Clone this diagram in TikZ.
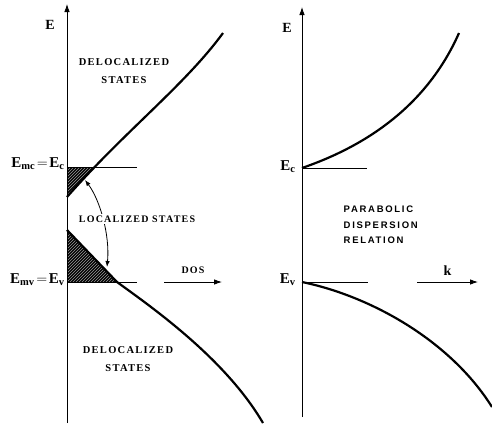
\documentclass[tikz,border=0pt]{standalone}
\usepackage{fontspec}
\setmainfont{Liberation Serif}
\newfontfamily\spacedserif{Liberation Serif}[LetterSpace=12]
\newfontfamily\spacedsans{Liberation Sans}[LetterSpace=18]
\usetikzlibrary{arrows.meta,patterns}

\begin{document}
\begin{tikzpicture}[x=1pt, y=-1pt, line width=0.8pt,
    >={Latex[length=8pt,width=5.5pt]},
    band/.style={line width=2.2pt},
    tail/.style={fill=black, postaction={pattern=north east lines, pattern color=gray!80}},
    state/.style={font=\spacedserif\bfseries\fontsize{10.5}{18}\selectfont, align=center, inner sep=1.5pt},
    level/.style={font=\bfseries\fontsize{15}{16}\selectfont, anchor=base east, inner sep=1pt},
    axislabel/.style={font=\bfseries\fontsize{14}{15}\selectfont}]
  \useasboundingbox (0,0) rectangle (492,424);

  % density of states
  \fill[tail] (67,167) -- (95,167) -- (67,197) -- cycle;
  \fill[tail] (67,230) -- (117,282) -- (67,282) -- cycle;
  \draw[->] (67,423) -- (67,4);
  \draw (67,167) -- (137,167);
  \draw (67,282) -- (137,282);
  \draw[band] (67,197) .. controls (125,131) and (185,85) .. (223,33);
  \draw[band] (67,230) -- (117,282) .. controls (150,306) and (225,358) .. (263,423);
  \node[axislabel] (eleft) at (50,25) {E};
  \node[level] (emc) at (66,167) {$\mathbf{E_{mc}\!=\!E_{c}}$};
  \node[level] (emv) at (66,283) {$\mathbf{E_{mv}\!=\!E_{v}}$};
  \node[state] (delocup) at (124,71) {DELOCALIZED\\STATES};
  \node[state] (delocdown) at (128,359) {DELOCALIZED\\STATES};
  \coordinate (loctop) at (85,180);
  \coordinate (locbot) at (107,267);
  \draw[{Latex[length=6pt,width=4.5pt]}-{Latex[length=6pt,width=4.5pt]}]
    (loctop) .. controls (100,200) and (110,235) .. (locbot);
  \node[state, fill=white, font=\spacedserif\bfseries\fontsize{10}{12}\selectfont] (loc) at (137,219) {LOCALIZED STATES};
  \coordinate (dosfrom) at (164,282);
  \coordinate (dosto) at (222,282);
  \draw[->] (dosfrom) -- (dosto) node[midway, above=5pt, font=\spacedserif\bfseries\fontsize{10}{12}\selectfont] (dos) {DOS};

  % dispersion relation
  \draw[->] (302,417) -- (302,7);
  \draw (302,168) -- (367,168);
  \draw (302,282) -- (368,282);
  \draw[band] (302,168) .. controls (360,148) and (425,110) .. (459,33);
  \draw[band] (302,282) .. controls (370,296) and (450,340) .. (492,407);
  \node[axislabel] (eright) at (287,28) {E};
  \node[level] (ec) at (297,170) {$\mathbf{E_{c}}$};
  \node[level] (ev) at (297,283) {$\mathbf{E_{v}}$};
  \node[font=\spacedsans\bfseries\fontsize{9.5}{15.5}\selectfont, align=left, anchor=west] (parab) at (340,225) {PARABOLIC\\DISPERSION\\RELATION};
  \coordinate (kfrom) at (417,282);
  \coordinate (kto) at (478,282);
  \draw[->] (kfrom) -- (kto) node[midway, above=3pt, axislabel] (klabel) {k};
\end{tikzpicture}
\end{document}
